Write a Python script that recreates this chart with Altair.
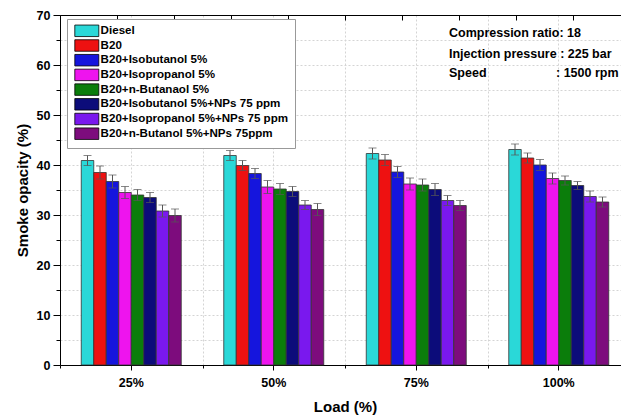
import altair as alt
import pandas as pd

loads = ["25%", "50%", "75%", "100%"]
fuels = [
    "Diesel",
    "B20",
    "B20+Isobutanol 5%",
    "B20+Isopropanol 5%",
    "B20+n-Butanaol 5%",
    "B20+Isobutanol 5%+NPs 75 ppm",
    "B20+Isopropanol 5%+NPs 75 ppm",
    "B20+n-Butanol 5%+NPs 75ppm",
]
colors = ["#2ad8d8", "#ee1111", "#1515dd", "#ee14ee", "#0b7d0b", "#0c0c7a", "#7a18ee", "#7d0c7d"]

diesel = [40.9, 41.9, 42.3, 43.1]
b20 = [38.5, 39.9, 41.0, 41.4]
isobutanol = [36.7, 38.3, 38.6, 40.0]
isopropanol = [34.5, 35.6, 36.2, 37.3]
butanol = [34.0, 35.2, 36.0, 36.9]
isobutanol_np = [33.5, 34.7, 35.1, 35.9]
isopropanol_np = [30.8, 32.0, 32.9, 33.7]
butanol_np = [29.9, 31.1, 31.9, 32.6]

diesel_err = [1.0, 1.0, 1.1, 1.1]
b20_err = [1.3, 1.0, 1.1, 1.0]
isobutanol_err = [1.3, 1.0, 1.1, 1.1]
isopropanol_err = [1.2, 1.3, 1.2, 1.1]
butanol_err = [1.1, 1.1, 1.2, 0.9]
isobutanol_np_err = [1.0, 1.0, 1.2, 0.8]
isopropanol_np_err = [1.2, 0.9, 1.0, 1.1]
butanol_np_err = [1.3, 1.2, 1.0, 1.0]

series = [diesel, b20, isobutanol, isopropanol, butanol, isobutanol_np, isopropanol_np, butanol_np]
errors = [diesel_err, b20_err, isobutanol_err, isopropanol_err, butanol_err,
          isobutanol_np_err, isopropanol_np_err, butanol_np_err]

y_major = [0, 10, 20, 30, 40, 50, 60, 70]
y_minor = [5, 10, 15, 20, 25, 30, 35, 40, 45, 50, 55, 60, 65]
top_ticks = list(range(11))

notes = ["Compression ratio: 18", "Injection pressure : 225 bar", "Speed", ": 1500 rpm"]

rows = []
for f, vals, errs in zip(fuels, series, errors):
    for l, v, e in zip(loads, vals, errs):
        rows.append({"load": l, "fuel": f, "value": v, "err": e})
df = pd.DataFrame(rows)

FONT = "Liberation Sans"
RANGE_X = [0, 570]

xscale = alt.Scale(domain=loads, range=RANGE_X, paddingInner=0, paddingOuter=0)
xoff = alt.XOffset("fuel:N", sort=fuels,
                   scale=alt.Scale(domain=fuels, range=[21.25, 121.25],
                                   paddingInner=0, paddingOuter=0))
yscale = alt.Scale(domain=[0, 70], nice=False)

base = alt.Chart(df)

bars = base.mark_bar(stroke="#333333", strokeWidth=0.8).encode(
    x=alt.X("load:N", sort=loads, scale=xscale,
            axis=alt.Axis(orient="bottom", title="Load (%)", labelAngle=0,
                          labelFont=FONT, labelFontWeight="bold", labelFontSize=12.5,
                          labelColor="black", labelPadding=6, tickSize=5, tickColor="black",
                          domainColor="black", grid=True, gridDash=[2, 2], gridColor="#d4d4d4",
                          titleFont=FONT, titleFontSize=15, titleFontWeight="bold",
                          titleColor="black", titlePadding=11)),
    xOffset=xoff,
    y=alt.Y("value:Q", scale=yscale,
            axis=alt.Axis(orient="left", values=y_major, title="Smoke opacity (%)",
                          labelFont=FONT, labelFontWeight="bold", labelFontSize=12.5,
                          labelColor="black", labelPadding=3, tickSize=7, tickColor="black",
                          domainColor="black", grid=False,
                          titleFont=FONT, titleFontSize=15, titleFontWeight="bold",
                          titleColor="black", titlePadding=6)),
    color=alt.Color("fuel:N", sort=fuels, scale=alt.Scale(domain=fuels, range=colors),
                    legend=alt.Legend(orient="none", legendX=7, legendY=4, title=None,
                                      symbolType="M-0.8,-1.15L4.0,-1.15L4.0,1.15L-0.8,1.15Z",
                                      symbolSize=100, symbolStrokeColor="black",
                                      symbolStrokeWidth=0.8, symbolOpacity=1,
                                      labelFont=FONT, labelFontWeight="bold",
                                      labelFontSize=11.6, labelColor="black", labelOffset=16,
                                      labelLimit=300, rowPadding=-1.3, padding=6,
                                      strokeColor="#999999", fillColor="white")),
)

err_rule = base.mark_rule(color="#555555", strokeWidth=1).transform_calculate(
    lo="datum.value - datum.err", hi="datum.value + datum.err"
).encode(
    x=alt.X("load:N", sort=loads, scale=xscale, axis=None),
    xOffset=xoff,
    y=alt.Y("lo:Q", scale=yscale, axis=None),
    y2="hi:Q",
)

err_hi = base.mark_tick(color="#555555", thickness=1, size=8).transform_calculate(
    hi="datum.value + datum.err"
).encode(
    x=alt.X("load:N", sort=loads, scale=xscale, axis=None),
    xOffset=xoff,
    y=alt.Y("hi:Q", scale=yscale, axis=None),
)
err_lo = base.mark_tick(color="#555555", thickness=1, size=8).transform_calculate(
    lo="datum.value - datum.err"
).encode(
    x=alt.X("load:N", sort=loads, scale=xscale, axis=None),
    xOffset=xoff,
    y=alt.Y("lo:Q", scale=yscale, axis=None),
)

minor = base.mark_point(opacity=0).encode(
    x=alt.X("load:N", sort=loads, scale=xscale,
            axis=alt.Axis(orient="bottom", tickBand="extent", labels=False, domain=False,
                          tickSize=3, tickColor="black", grid=True, gridDash=[2, 2],
                          gridColor="#d4d4d4", title=None)),
    y=alt.Y("value:Q", scale=yscale,
            axis=alt.Axis(orient="left", values=y_minor, labels=False, domain=False,
                          tickSize=4, tickColor="black", grid=True, gridDash=[2, 2],
                          gridColor="#d4d4d4", title=None)),
)

top_line = base.mark_point(opacity=0).encode(
    x=alt.X("load:N", sort=loads, scale=xscale,
            axis=alt.Axis(orient="top", labels=False, ticks=False, domain=True,
                          domainColor="black", grid=False, title=None)),
    y=alt.Y("value:Q", scale=yscale, axis=None),
)

top_tick_layer = alt.Chart(pd.DataFrame({"t": top_ticks})).mark_point(opacity=0).encode(
    x=alt.X("t:Q", scale=alt.Scale(domain=[0, 10], range=RANGE_X),
            axis=alt.Axis(orient="top", values=top_ticks, labels=False, domain=False,
                          grid=False, tickSize=5, tickColor="black", offset=-5, title=None)),
)

def note(txt, x, y):
    return alt.Chart(pd.DataFrame({"a": [0]})).mark_text(
        align="left", baseline="middle", font=FONT, fontWeight="bold", fontSize=12.5,
        color="black"
    ).encode(x=alt.value(x), y=alt.value(y), text=alt.value(txt))

texts = [note(notes[0], 389, 18), note(notes[1], 389, 39), note(notes[2], 389, 58),
         note(notes[3], 496, 58)]

chart = alt.layer(minor, top_line, top_tick_layer, bars, err_rule, err_hi, err_lo, *texts).resolve_scale(
    x="independent"
).resolve_axis(x="independent", y="independent").properties(
    width=561, height=350,
    autosize=alt.AutoSizeParams(type="none"),
    padding={"left": 60, "top": 15, "right": 0, "bottom": 55},
).configure_view(stroke=None).configure(background="white")

chart.save("out.html", embed_options={"renderer": "svg", "actions": False})
